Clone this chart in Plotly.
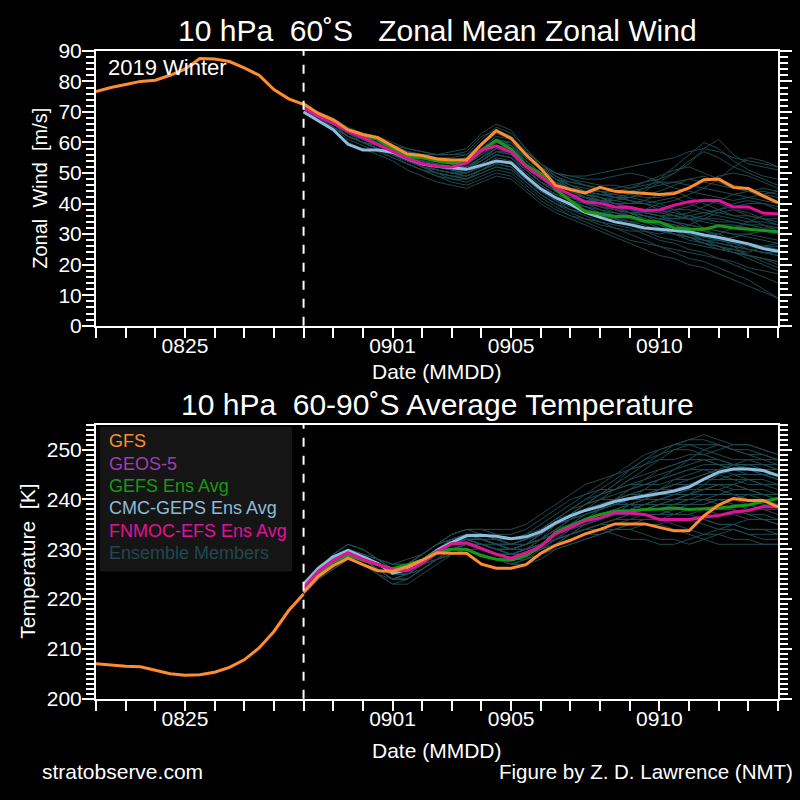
import pandas as pd
import plotly.graph_objects as go
from plotly.subplots import make_subplots

# ---------------- data ----------------
ana_dates = pd.date_range("2019-08-22", "2019-08-29", freq="12h")
fc_dates = pd.date_range("2019-08-29", "2019-09-14", freq="12h")

# Zonal wind analysis (GFS) 0822-0829
u_ana = [76.7, 78.0, 79.0, 80.0, 80.4, 82.0, 84.0, 87.5, 87.3, 86.5, 84.4, 82.0, 77.3, 74.3, 72.5]
# Temperature analysis (GFS) 0822-0829
t_ana = [207.0, 206.7, 206.5, 206.4, 205.7, 205.0, 204.7, 204.8, 205.3, 206.3, 207.8, 210.2, 213.5, 217.7, 221.0]

# Zonal wind forecasts
u_gfs = [72.7, 69.5, 67.4, 64.2, 62.6, 61.6, 58.9, 56.2, 55.7, 54.6, 54.3, 54.3, 59.4, 63.9, 61.3, 56.0, 51.5,
         45.9, 44.6, 43.5, 45.3, 44.0, 43.7, 43.3, 43.0, 43.3, 45.1, 47.8, 48.0, 45.3, 44.9, 42.5, 40.3]
u_gefs = [72.0, 69.2, 66.9, 63.9, 62.3, 61.0, 58.0, 55.4, 55.0, 53.9, 53.3, 53.3, 57.3, 60.7, 57.8, 52.5, 49.8,
          44.6, 40.9, 37.4, 36.6, 35.8, 35.8, 34.2, 34.0, 32.0, 31.6, 31.6, 32.7, 32.0, 31.6, 31.3, 30.8]
u_cmc = [70.0, 67.1, 64.2, 59.4, 57.5, 57.5, 56.8, 54.7, 52.9, 52.2, 51.8, 51.2, 52.5, 53.9, 53.3, 48.8, 44.8,
         41.9, 39.8, 37.1, 35.5, 34.0, 33.1, 32.0, 31.6, 31.3, 30.8, 29.7, 28.9, 27.8, 26.8, 25.3, 24.4]
u_fnmoc = [71.3, 68.5, 66.3, 63.7, 61.6, 59.4, 57.1, 54.7, 53.1, 52.2, 52.0, 53.3, 57.5, 58.9, 56.8, 52.0, 48.8,
           45.1, 43.0, 40.5, 40.1, 38.9, 38.7, 37.7, 37.9, 39.5, 40.6, 41.1, 41.0, 38.9, 38.9, 36.9, 36.6]

# Temperature forecasts
t_gfs = [221.3, 224.6, 226.7, 228.2, 226.9, 225.7, 225.6, 226.5, 227.8, 229.3, 229.2, 229.2, 227.0, 226.2, 226.2,
         226.9, 229.2, 230.8, 231.8, 233.1, 234.0, 235.1, 235.1, 235.1, 234.4, 233.7, 233.7, 236.7, 238.9, 240.2,
         239.8, 239.8, 238.5]
t_gefs = [222.0, 225.2, 227.5, 228.8, 227.8, 226.9, 226.1, 226.9, 227.8, 229.6, 230.0, 230.0, 228.7, 228.0, 227.8,
          228.7, 230.6, 233.4, 234.7, 236.0, 237.0, 237.6, 237.7, 238.0, 238.1, 238.3, 238.0, 238.1, 238.3, 238.6,
          238.9, 239.6, 240.2]
t_cmc = [223.0, 226.2, 228.5, 229.8, 228.5, 227.2, 225.2, 225.9, 227.5, 229.8, 231.4, 232.7, 232.8, 232.6, 232.1,
         232.5, 233.5, 235.3, 236.7, 237.8, 238.6, 239.6, 240.2, 240.7, 241.1, 241.7, 242.5, 244.1, 245.5, 246.1,
         246.1, 245.8, 244.8]
t_fnmoc = [222.3, 225.6, 227.8, 229.3, 228.0, 226.9, 225.9, 225.7, 227.2, 229.5, 231.1, 231.3, 230.1, 229.0, 228.2,
           229.3, 230.6, 233.1, 234.4, 235.7, 236.3, 237.3, 237.3, 237.0, 236.0, 236.0, 236.0, 236.5, 236.8, 237.5,
           237.8, 238.6, 238.5]

# Ensemble members (zonal wind)
u_members = [
    [71, 69, 67, 64, 62, 61, 58, 56, 55, 54, 54, 55, 60, 64, 62, 57, 53, 50, 48, 47, 46, 46, 45, 47, 48, 50, 53, 58, 61, 56, 53, 52, 51],
    [70, 68, 66, 63, 61, 60, 57, 55, 54, 53, 53, 54, 58, 61, 59, 54, 50, 47, 45, 44, 44, 43, 42, 41, 40, 41, 43, 45, 48, 52, 55, 54, 52],
    [71, 68, 66, 62, 60, 59, 56, 54, 53, 52, 51, 51, 55, 58, 56, 51, 47, 44, 42, 40, 39, 38, 37, 36, 35, 34, 33, 32, 31, 30, 30, 29, 28],
    [70, 67, 65, 61, 59, 57, 55, 53, 51, 50, 49, 48, 51, 53, 52, 48, 44, 41, 38, 36, 34, 33, 32, 30, 28, 27, 25, 24, 22, 20, 18, 16, 14],
    [72, 69, 67, 64, 62, 60, 58, 57, 56, 55, 55, 56, 61, 65, 63, 58, 52, 48, 45, 42, 41, 40, 39, 38, 38, 37, 36, 35, 35, 34, 33, 32, 32],
    [71, 68, 65, 62, 60, 58, 56, 54, 52, 50, 48, 47, 49, 51, 50, 46, 42, 39, 36, 34, 32, 30, 28, 27, 26, 24, 22, 21, 19, 17, 15, 12, 9],
    [70, 68, 66, 63, 61, 60, 58, 56, 55, 54, 53, 53, 56, 59, 58, 54, 50, 47, 44, 42, 41, 41, 42, 44, 47, 50, 54, 57, 55, 52, 50, 48, 46],
    [71, 69, 67, 64, 63, 62, 59, 57, 56, 55, 54, 54, 57, 60, 60, 55, 51, 48, 46, 44, 43, 42, 41, 40, 38, 36, 35, 36, 38, 40, 41, 40, 38],
    [70, 67, 65, 62, 60, 59, 57, 55, 53, 52, 51, 50, 52, 55, 54, 50, 46, 43, 41, 39, 37, 36, 35, 35, 34, 33, 31, 30, 28, 27, 25, 24, 23],
    [71, 68, 66, 63, 61, 59, 57, 55, 54, 53, 52, 52, 54, 57, 57, 53, 49, 46, 44, 42, 41, 40, 39, 37, 36, 35, 35, 34, 33, 33, 32, 31, 30],
    [70, 68, 66, 63, 61, 60, 58, 56, 54, 53, 52, 52, 55, 58, 57, 53, 49, 46, 43, 41, 39, 38, 37, 36, 34, 32, 30, 29, 30, 32, 34, 36, 37],
    [71, 68, 66, 62, 60, 58, 55, 53, 51, 49, 47, 46, 48, 50, 49, 45, 41, 38, 36, 35, 34, 32, 30, 28, 26, 25, 24, 23, 22, 21, 19, 18, 17],
    [72, 70, 68, 65, 63, 62, 60, 58, 57, 56, 56, 57, 62, 64, 62, 57, 53, 50, 49, 48, 48, 49, 50, 49, 47, 45, 44, 43, 42, 41, 42, 43, 44],
    [71, 69, 67, 64, 62, 61, 59, 57, 55, 54, 54, 55, 58, 60, 58, 54, 50, 47, 45, 43, 42, 41, 40, 40, 41, 42, 40, 38, 37, 36, 36, 35, 34],
    [70, 67, 65, 62, 60, 58, 56, 54, 52, 51, 50, 49, 51, 54, 53, 49, 45, 42, 40, 38, 36, 35, 34, 32, 31, 30, 28, 27, 26, 24, 23, 22, 21],
    [71, 69, 66, 63, 61, 60, 58, 56, 55, 54, 53, 53, 57, 61, 60, 55, 51, 48, 46, 44, 42, 40, 39, 38, 37, 36, 37, 39, 41, 43, 44, 45, 44],
    [70, 68, 66, 63, 61, 59, 57, 55, 53, 52, 51, 51, 53, 56, 55, 51, 47, 44, 41, 39, 37, 35, 33, 31, 29, 28, 27, 26, 25, 25, 24, 26, 27],
    [71, 68, 66, 63, 61, 60, 57, 55, 54, 53, 52, 51, 54, 57, 56, 52, 48, 46, 44, 43, 42, 40, 38, 36, 35, 34, 32, 31, 29, 28, 27, 26, 25],
    [70, 68, 66, 62, 60, 58, 56, 53, 51, 49, 48, 48, 50, 52, 51, 47, 43, 40, 38, 37, 36, 35, 36, 38, 40, 38, 35, 32, 29, 26, 23, 21, 19],
    [71, 69, 67, 64, 62, 61, 59, 58, 57, 56, 56, 56, 59, 63, 61, 56, 52, 49, 47, 46, 45, 45, 46, 47, 49, 51, 52, 50, 48, 46, 45, 43, 42],
    [70, 68, 65, 62, 60, 59, 57, 55, 53, 51, 50, 50, 52, 54, 53, 48, 44, 41, 39, 38, 37, 37, 36, 34, 32, 30, 29, 28, 27, 26, 25, 24, 24],
    [71, 69, 67, 63, 61, 60, 58, 56, 55, 54, 53, 54, 57, 60, 59, 54, 50, 47, 45, 44, 43, 42, 42, 43, 44, 46, 48, 49, 47, 45, 44, 42, 40],
    [70, 67, 64, 60, 58, 56, 54, 51, 49, 47, 46, 45, 47, 49, 48, 44, 40, 37, 35, 33, 31, 29, 27, 25, 23, 22, 20, 19, 17, 15, 13, 11, 9],
    [71, 69, 67, 64, 62, 61, 59, 57, 56, 56, 57, 58, 63, 66, 64, 58, 53, 49, 46, 45, 44, 44, 45, 46, 47, 47, 46, 45, 44, 43, 42, 41, 40],
    [70, 68, 65, 62, 60, 58, 56, 54, 52, 50, 49, 49, 51, 53, 52, 47, 43, 40, 37, 35, 33, 32, 31, 31, 30, 31, 33, 35, 37, 38, 37, 35, 33],
    [71, 68, 66, 63, 61, 60, 58, 56, 55, 54, 54, 55, 58, 61, 59, 55, 52, 50, 49, 49, 50, 51, 52, 53, 54, 55, 57, 58, 57, 55, 54, 53, 52],
    [70, 68, 66, 63, 61, 59, 57, 55, 53, 52, 51, 50, 53, 56, 55, 51, 47, 44, 42, 40, 38, 36, 34, 33, 31, 30, 29, 27, 26, 25, 23, 22, 20],
    [71, 68, 66, 63, 60, 58, 56, 54, 53, 51, 50, 50, 53, 56, 55, 50, 46, 43, 41, 40, 39, 38, 37, 37, 36, 36, 35, 35, 34, 34, 33, 33, 32],
    [70, 67, 65, 62, 60, 59, 57, 55, 54, 53, 52, 52, 55, 59, 58, 53, 48, 45, 43, 41, 40, 39, 38, 37, 37, 38, 39, 41, 40, 38, 36, 35, 35],
    [71, 69, 67, 64, 62, 60, 58, 56, 55, 54, 53, 54, 57, 61, 60, 56, 52, 48, 45, 43, 41, 39, 37, 35, 33, 31, 30, 28, 27, 26, 25, 24, 23],
    [70, 68, 65, 62, 60, 58, 56, 54, 52, 51, 50, 49, 51, 53, 52, 48, 44, 42, 40, 39, 38, 37, 36, 35, 34, 33, 32, 31, 30, 28, 27, 26, 26],
    [71, 68, 66, 63, 61, 60, 58, 56, 55, 54, 54, 54, 58, 62, 61, 56, 51, 47, 44, 42, 40, 39, 38, 37, 36, 34, 33, 32, 31, 30, 29, 28, 27],
    [71, 68, 66, 63, 61, 59, 57, 55, 53, 52, 51, 51, 54, 58, 57, 52, 47, 44, 42, 41, 41, 42, 43, 45, 48, 52, 56, 60, 58, 54, 51, 49, 48],
    [70, 67, 65, 62, 60, 58, 56, 54, 53, 52, 51, 50, 52, 54, 53, 49, 45, 43, 42, 41, 40, 39, 37, 35, 33, 32, 30, 29, 28, 27, 26, 25, 24],
    [71, 69, 67, 64, 62, 61, 58, 56, 55, 54, 53, 53, 56, 60, 59, 54, 50, 47, 45, 43, 41, 39, 37, 36, 35, 35, 36, 37, 38, 39, 40, 40, 39],
    [70, 68, 65, 62, 60, 58, 56, 54, 52, 50, 49, 48, 50, 52, 51, 47, 43, 40, 38, 37, 36, 35, 34, 34, 33, 32, 30, 28, 26, 24, 22, 20, 18],
    [71, 68, 66, 63, 61, 60, 58, 56, 55, 54, 54, 54, 57, 60, 59, 55, 51, 48, 47, 46, 45, 44, 43, 42, 42, 43, 45, 47, 49, 50, 49, 47, 45],
    [70, 68, 66, 63, 61, 59, 57, 55, 54, 53, 52, 52, 54, 57, 56, 52, 48, 45, 43, 41, 39, 37, 35, 34, 33, 31, 29, 27, 25, 24, 23, 22, 21],
    [71, 69, 67, 64, 62, 60, 58, 56, 55, 54, 54, 55, 59, 63, 62, 57, 53, 50, 48, 46, 44, 42, 41, 40, 39, 38, 38, 37, 36, 35, 34, 34, 33],
    [70, 67, 65, 62, 60, 59, 57, 55, 53, 52, 51, 51, 53, 56, 55, 51, 47, 45, 43, 42, 41, 40, 40, 41, 43, 44, 42, 40, 38, 36, 35, 33, 31],
    [71, 68, 66, 63, 61, 60, 57, 55, 54, 53, 52, 52, 55, 58, 57, 53, 48, 45, 43, 42, 40, 38, 36, 34, 32, 30, 29, 28, 28, 29, 30, 31, 31],
    [70, 68, 66, 63, 61, 60, 58, 56, 55, 54, 53, 53, 56, 59, 58, 54, 50, 47, 45, 44, 43, 43, 44, 45, 46, 47, 48, 47, 46, 45, 44, 44, 43],
]

# Ensemble members (temperature)
t_members = [
    [222, 225, 227, 229, 228, 226, 224, 225, 227, 229, 230, 231, 230, 229, 229, 230, 232, 235, 237, 239, 241, 243, 245, 247, 249, 251, 252, 253, 252, 251, 251, 250, 249],
    [223, 226, 228, 230, 229, 227, 226, 227, 229, 231, 232, 233, 232, 231, 230, 231, 232, 234, 235, 236, 237, 237, 238, 238, 239, 239, 240, 240, 239, 238, 237, 236, 235],
    [222, 225, 227, 228, 227, 225, 224, 224, 226, 228, 229, 230, 229, 228, 227, 227, 229, 231, 232, 233, 233, 234, 234, 233, 232, 232, 231, 232, 233, 234, 233, 232, 232],
    [221, 224, 227, 229, 228, 226, 225, 226, 228, 230, 231, 232, 232, 231, 231, 232, 234, 236, 238, 240, 242, 244, 246, 248, 249, 250, 250, 249, 248, 247, 246, 246, 245],
    [222, 226, 228, 230, 229, 227, 226, 226, 227, 229, 231, 232, 231, 230, 229, 230, 231, 232, 233, 235, 236, 237, 237, 238, 239, 240, 241, 243, 245, 247, 248, 248, 247],
    [223, 226, 229, 231, 230, 228, 227, 227, 229, 231, 233, 234, 234, 233, 233, 234, 236, 238, 240, 241, 242, 242, 243, 244, 245, 246, 248, 250, 251, 250, 249, 248, 248],
    [222, 225, 227, 229, 228, 226, 225, 225, 226, 228, 229, 230, 229, 228, 228, 229, 230, 231, 233, 234, 235, 235, 236, 236, 236, 235, 234, 233, 233, 232, 232, 231, 231],
    [221, 224, 226, 228, 227, 225, 223, 224, 226, 228, 230, 231, 231, 230, 229, 230, 231, 233, 235, 237, 238, 239, 240, 241, 241, 242, 243, 244, 245, 246, 247, 247, 246],
    [222, 225, 228, 230, 229, 227, 225, 226, 228, 230, 232, 233, 233, 232, 232, 233, 234, 236, 238, 239, 240, 240, 239, 238, 238, 237, 237, 238, 239, 240, 241, 241, 240],
    [223, 226, 228, 229, 228, 227, 226, 227, 228, 230, 231, 232, 231, 230, 230, 231, 233, 235, 236, 237, 238, 239, 240, 242, 244, 246, 247, 248, 247, 246, 245, 245, 244],
    [222, 225, 227, 229, 228, 226, 224, 225, 227, 229, 230, 230, 229, 228, 227, 228, 229, 231, 232, 233, 234, 235, 235, 236, 236, 237, 237, 236, 235, 235, 234, 234, 233],
    [221, 224, 227, 229, 228, 227, 226, 226, 227, 229, 231, 232, 232, 232, 232, 233, 235, 237, 239, 241, 243, 245, 247, 249, 250, 251, 251, 250, 249, 248, 248, 247, 247],
    [222, 226, 228, 230, 229, 227, 226, 226, 228, 230, 231, 232, 231, 231, 230, 231, 232, 234, 235, 237, 238, 239, 240, 240, 241, 241, 242, 242, 243, 243, 244, 244, 243],
    [223, 225, 228, 229, 228, 226, 225, 226, 228, 230, 232, 233, 232, 231, 230, 230, 231, 232, 233, 234, 235, 236, 236, 237, 237, 238, 239, 239, 240, 240, 240, 239, 239],
    [222, 225, 227, 229, 228, 227, 225, 225, 227, 228, 230, 231, 230, 229, 228, 229, 230, 232, 234, 236, 237, 238, 239, 240, 240, 240, 241, 242, 242, 243, 242, 241, 241],
    [222, 225, 228, 230, 229, 228, 227, 228, 229, 231, 233, 234, 234, 234, 234, 235, 237, 239, 241, 243, 244, 245, 246, 247, 248, 248, 249, 249, 250, 251, 251, 250, 249],
    [221, 224, 226, 228, 227, 225, 223, 223, 225, 227, 229, 230, 229, 228, 227, 227, 228, 230, 231, 232, 233, 234, 234, 235, 235, 234, 233, 232, 231, 231, 231, 231, 231],
    [223, 226, 228, 230, 229, 227, 226, 226, 228, 229, 231, 232, 231, 230, 230, 230, 231, 233, 234, 236, 237, 238, 238, 239, 239, 239, 240, 240, 240, 239, 238, 238, 237],
    [222, 225, 227, 229, 228, 226, 225, 225, 227, 229, 231, 231, 231, 230, 229, 229, 231, 232, 234, 235, 236, 237, 239, 240, 242, 244, 245, 246, 246, 245, 244, 243, 243],
    [222, 226, 228, 230, 229, 228, 226, 227, 228, 230, 232, 233, 233, 232, 231, 232, 233, 235, 236, 238, 239, 240, 241, 241, 242, 243, 243, 244, 244, 245, 245, 245, 244],
    [221, 224, 226, 228, 227, 226, 224, 224, 226, 228, 229, 230, 230, 229, 228, 228, 229, 231, 233, 234, 234, 233, 232, 232, 231, 231, 232, 233, 234, 235, 236, 236, 235],
    [223, 226, 229, 231, 230, 228, 226, 227, 229, 231, 232, 233, 233, 232, 231, 232, 233, 235, 237, 239, 241, 242, 244, 245, 246, 247, 248, 248, 247, 246, 246, 245, 245],
    [222, 225, 227, 229, 228, 226, 224, 224, 226, 228, 230, 231, 231, 230, 229, 230, 232, 234, 236, 238, 240, 242, 244, 246, 248, 250, 251, 251, 251, 250, 250, 249, 248],
    [222, 225, 228, 230, 229, 227, 225, 226, 228, 230, 231, 232, 231, 230, 229, 229, 230, 232, 233, 234, 235, 236, 237, 237, 237, 238, 238, 238, 237, 237, 236, 236, 236],
    [223, 226, 228, 230, 229, 227, 226, 227, 228, 230, 232, 233, 233, 232, 232, 232, 233, 235, 237, 238, 239, 240, 241, 242, 242, 243, 244, 245, 246, 246, 246, 245, 244],
    [221, 224, 227, 229, 228, 226, 225, 225, 227, 229, 230, 231, 230, 229, 228, 229, 231, 233, 235, 236, 237, 238, 239, 239, 240, 240, 240, 241, 241, 241, 240, 240, 239],
    [222, 226, 228, 230, 229, 227, 225, 225, 227, 229, 231, 232, 232, 231, 231, 232, 234, 236, 237, 239, 240, 241, 242, 243, 243, 244, 244, 245, 246, 247, 247, 247, 246],
    [222, 225, 227, 229, 228, 226, 225, 225, 227, 229, 230, 231, 230, 229, 228, 228, 229, 230, 231, 232, 233, 234, 235, 236, 236, 236, 236, 235, 234, 234, 233, 233, 233],
    [223, 226, 228, 230, 229, 228, 227, 227, 229, 231, 232, 233, 232, 231, 231, 231, 232, 233, 234, 236, 238, 240, 242, 243, 244, 245, 246, 247, 247, 247, 246, 246, 246],
    [221, 224, 226, 228, 227, 226, 224, 225, 227, 228, 230, 230, 229, 228, 227, 228, 230, 232, 233, 235, 236, 237, 238, 239, 240, 241, 242, 242, 243, 242, 242, 241, 241],
    [222, 225, 228, 230, 229, 227, 226, 226, 228, 230, 232, 233, 232, 231, 230, 231, 232, 234, 236, 237, 238, 239, 239, 240, 240, 240, 241, 241, 241, 242, 242, 241, 240],
    [222, 225, 227, 229, 228, 226, 225, 226, 227, 229, 231, 232, 231, 230, 229, 230, 231, 233, 234, 235, 236, 237, 238, 238, 238, 239, 239, 239, 240, 240, 239, 238, 238],
    [222, 225, 227, 229, 228, 226, 225, 225, 227, 229, 231, 232, 231, 230, 230, 231, 233, 235, 237, 239, 241, 243, 246, 248, 250, 251, 252, 252, 251, 250, 249, 249, 248],
    [223, 226, 228, 230, 229, 227, 226, 226, 228, 230, 231, 232, 232, 231, 230, 231, 232, 233, 235, 236, 237, 238, 238, 239, 240, 241, 241, 242, 242, 241, 241, 240, 240],
    [221, 224, 227, 229, 228, 226, 224, 225, 227, 229, 230, 231, 230, 229, 229, 230, 231, 232, 233, 234, 235, 236, 237, 238, 238, 239, 239, 240, 240, 239, 239, 238, 238],
    [222, 225, 228, 230, 229, 227, 226, 226, 228, 230, 232, 233, 233, 232, 231, 232, 234, 236, 238, 240, 241, 242, 243, 243, 244, 245, 246, 246, 245, 244, 244, 243, 243],
    [222, 226, 228, 230, 229, 228, 226, 227, 228, 230, 231, 232, 231, 230, 229, 229, 230, 231, 232, 233, 234, 234, 235, 235, 235, 236, 236, 236, 235, 235, 234, 234, 234],
    [223, 226, 228, 229, 228, 226, 225, 226, 228, 230, 231, 232, 232, 231, 230, 231, 233, 235, 237, 238, 239, 240, 241, 241, 242, 242, 243, 244, 244, 244, 243, 243, 242],
    [221, 224, 226, 228, 227, 226, 225, 225, 227, 229, 230, 231, 230, 229, 228, 229, 230, 232, 234, 236, 238, 240, 242, 244, 246, 247, 248, 248, 248, 247, 247, 246, 246],
    [222, 225, 227, 229, 228, 227, 226, 226, 228, 229, 231, 231, 230, 229, 229, 230, 232, 234, 235, 236, 236, 237, 237, 237, 237, 237, 238, 238, 238, 238, 237, 237, 236],
    [223, 226, 229, 231, 230, 228, 226, 227, 229, 231, 233, 234, 233, 232, 231, 232, 233, 235, 236, 238, 239, 240, 241, 242, 242, 243, 243, 243, 243, 243, 242, 242, 241],
    [222, 225, 227, 229, 228, 226, 225, 225, 226, 228, 230, 231, 230, 229, 228, 229, 231, 233, 234, 235, 236, 237, 238, 238, 239, 240, 240, 240, 241, 241, 240, 240, 239],
]

tick_days = pd.date_range("2019-08-22", "2019-09-14", freq="D")
tick_labels = {"0825", "0901", "0905", "0910"}
tick_text = [d.strftime("%m%d") if d.strftime("%m%d") in tick_labels else "" for d in tick_days]
init_date = pd.Timestamp("2019-08-29")

legend_items = ["GFS", "GEOS-5", "GEFS Ens Avg", "CMC-GEPS Ens Avg", "FNMOC-EFS Ens Avg", "Ensemble Members"]

# ---------------- style ----------------
C_GFS = "#ff8c2e"
C_GEOS = "#a23db0"
C_GEFS = "#179917"
C_CMC = "#8dbbdd"
C_FNMOC = "#e0129a"
C_ENS = "#1e4a50"
legend_colors = [C_GFS, C_GEOS, C_GEFS, C_CMC, C_FNMOC, C_ENS]
FONT = "Liberation Sans, Arial, sans-serif"

fig = make_subplots(rows=2, cols=1)

def add_panel(row, ana, members, cmc, gefs, fnmoc, gfs):
    for m in members:
        fig.add_trace(go.Scatter(x=fc_dates, y=m, mode="lines", line=dict(color=C_ENS, width=1),
                                 showlegend=False, hoverinfo="skip"), row=row, col=1)
    fig.add_trace(go.Scatter(x=fc_dates, y=cmc, mode="lines", line=dict(color=C_CMC, width=3), showlegend=False), row=row, col=1)
    fig.add_trace(go.Scatter(x=fc_dates, y=gefs, mode="lines", line=dict(color=C_GEFS, width=3), showlegend=False), row=row, col=1)
    fig.add_trace(go.Scatter(x=fc_dates, y=fnmoc, mode="lines", line=dict(color=C_FNMOC, width=3), showlegend=False), row=row, col=1)
    fig.add_trace(go.Scatter(x=fc_dates, y=gfs, mode="lines", line=dict(color=C_GFS, width=3), showlegend=False), row=row, col=1)
    fig.add_trace(go.Scatter(x=ana_dates, y=ana, mode="lines", line=dict(color=C_GFS, width=3), showlegend=False), row=row, col=1)

add_panel(1, u_ana, u_members, u_cmc, u_gefs, u_fnmoc, u_gfs)
add_panel(2, t_ana, t_members, t_cmc, t_gefs, t_fnmoc, t_gfs)

fig.update_xaxes(
    range=[tick_days[0], tick_days[-1]], tickmode="array", tickvals=list(tick_days), ticktext=tick_text,
    ticks="outside", ticklen=10, tickwidth=1.5, tickcolor="white", showgrid=False, zeroline=False,
    showline=True, linecolor="white", linewidth=2, mirror=True, ticklabelstandoff=-10,
    tickfont=dict(family=FONT, size=21, color="white"), domain=[0.12, 0.9725],
)

yaxis_common = dict(
    ticks="outside", ticklen=12, tickwidth=2, tickcolor="white",
    showgrid=False, zeroline=False, showline=True, linecolor="white", linewidth=2, mirror="ticks",
    ticklabelstandoff=-4, tickfont=dict(family=FONT, size=21, color="white"),
)
fig.update_yaxes(range=[0, 90], dtick=10,
                 minor=dict(dtick=2, ticks="outside", ticklen=8, tickwidth=1.5, tickcolor="white"),
                 domain=[0.59625, 0.95], row=1, col=1, **yaxis_common)
fig.update_yaxes(range=[200, 255], tickvals=[200, 210, 220, 230, 240, 250],
                 minor=dict(dtick=1, ticks="outside", ticklen=8, tickwidth=1.5, tickcolor="white"),
                 domain=[0.11625, 0.46875], row=2, col=1, **yaxis_common)

# initialization dashed lines
for xr, yref in [("x", "y domain"), ("x2", "y2 domain")]:
    fig.add_shape(type="line", x0=init_date, x1=init_date, y0=0, y1=1, xref=xr, yref=yref,
                  line=dict(color="white", width=2, dash="dash"))

# legend box
fig.add_shape(type="rect", xref="paper", yref="paper", x0=100 / 800, x1=292 / 800,
              y0=1 - 576 / 800, y1=1 - 427 / 800, fillcolor="#151515", line=dict(width=0), layer="below")

annotations = []
for k, (name, col) in enumerate(zip(legend_items, legend_colors)):
    annotations.append(dict(x=107 / 800, y=1 - (442 + 23 * k) / 800, xref="paper", yref="paper",
                            text=name, showarrow=False, xanchor="left", yanchor="middle",
                            font=dict(family=FONT, size=18, color=col)))

def txt(x, y, s, size, anchor="center", angle=0):
    annotations.append(dict(x=x / 800, y=1 - y / 800, xref="paper", yref="paper", text=s, showarrow=False,
                            xanchor=anchor, yanchor="middle", textangle=angle,
                            font=dict(family=FONT, size=size, color="white")))

NB = "\u00a0"
txt(437, 19, f"10 hPa{NB}{NB}60˚S{NB}{NB}{NB}Zonal Mean Zonal Wind", 30)
txt(437, 404, f"10 hPa{NB}{NB}60-90˚S Average Temperature", 30)
txt(437, 370, "Date (MMDD)", 21)
txt(437, 760, "Date (MMDD)", 21)
txt(40, 182, f"Zonal{NB}{NB}Wind{NB}{NB}[m/s]", 20, angle=-90)
txt(28, 566, f"Temperature{NB}{NB}[K]", 21, angle=-90)
txt(106, 57, "2019 Winter", 22, anchor="left")
txt(40, 782, "stratobserve.com", 21, anchor="left")
txt(795, 782, "Figure by Z. D. Lawrence (NMT)", 20.5, anchor="right")

fig.update_layout(
    width=800, height=800, margin=dict(l=0, r=0, t=0, b=0),
    paper_bgcolor="black", plot_bgcolor="black", showlegend=False,
    annotations=annotations, font=dict(family=FONT, color="white"),
)

fig.write_html("out.html")
